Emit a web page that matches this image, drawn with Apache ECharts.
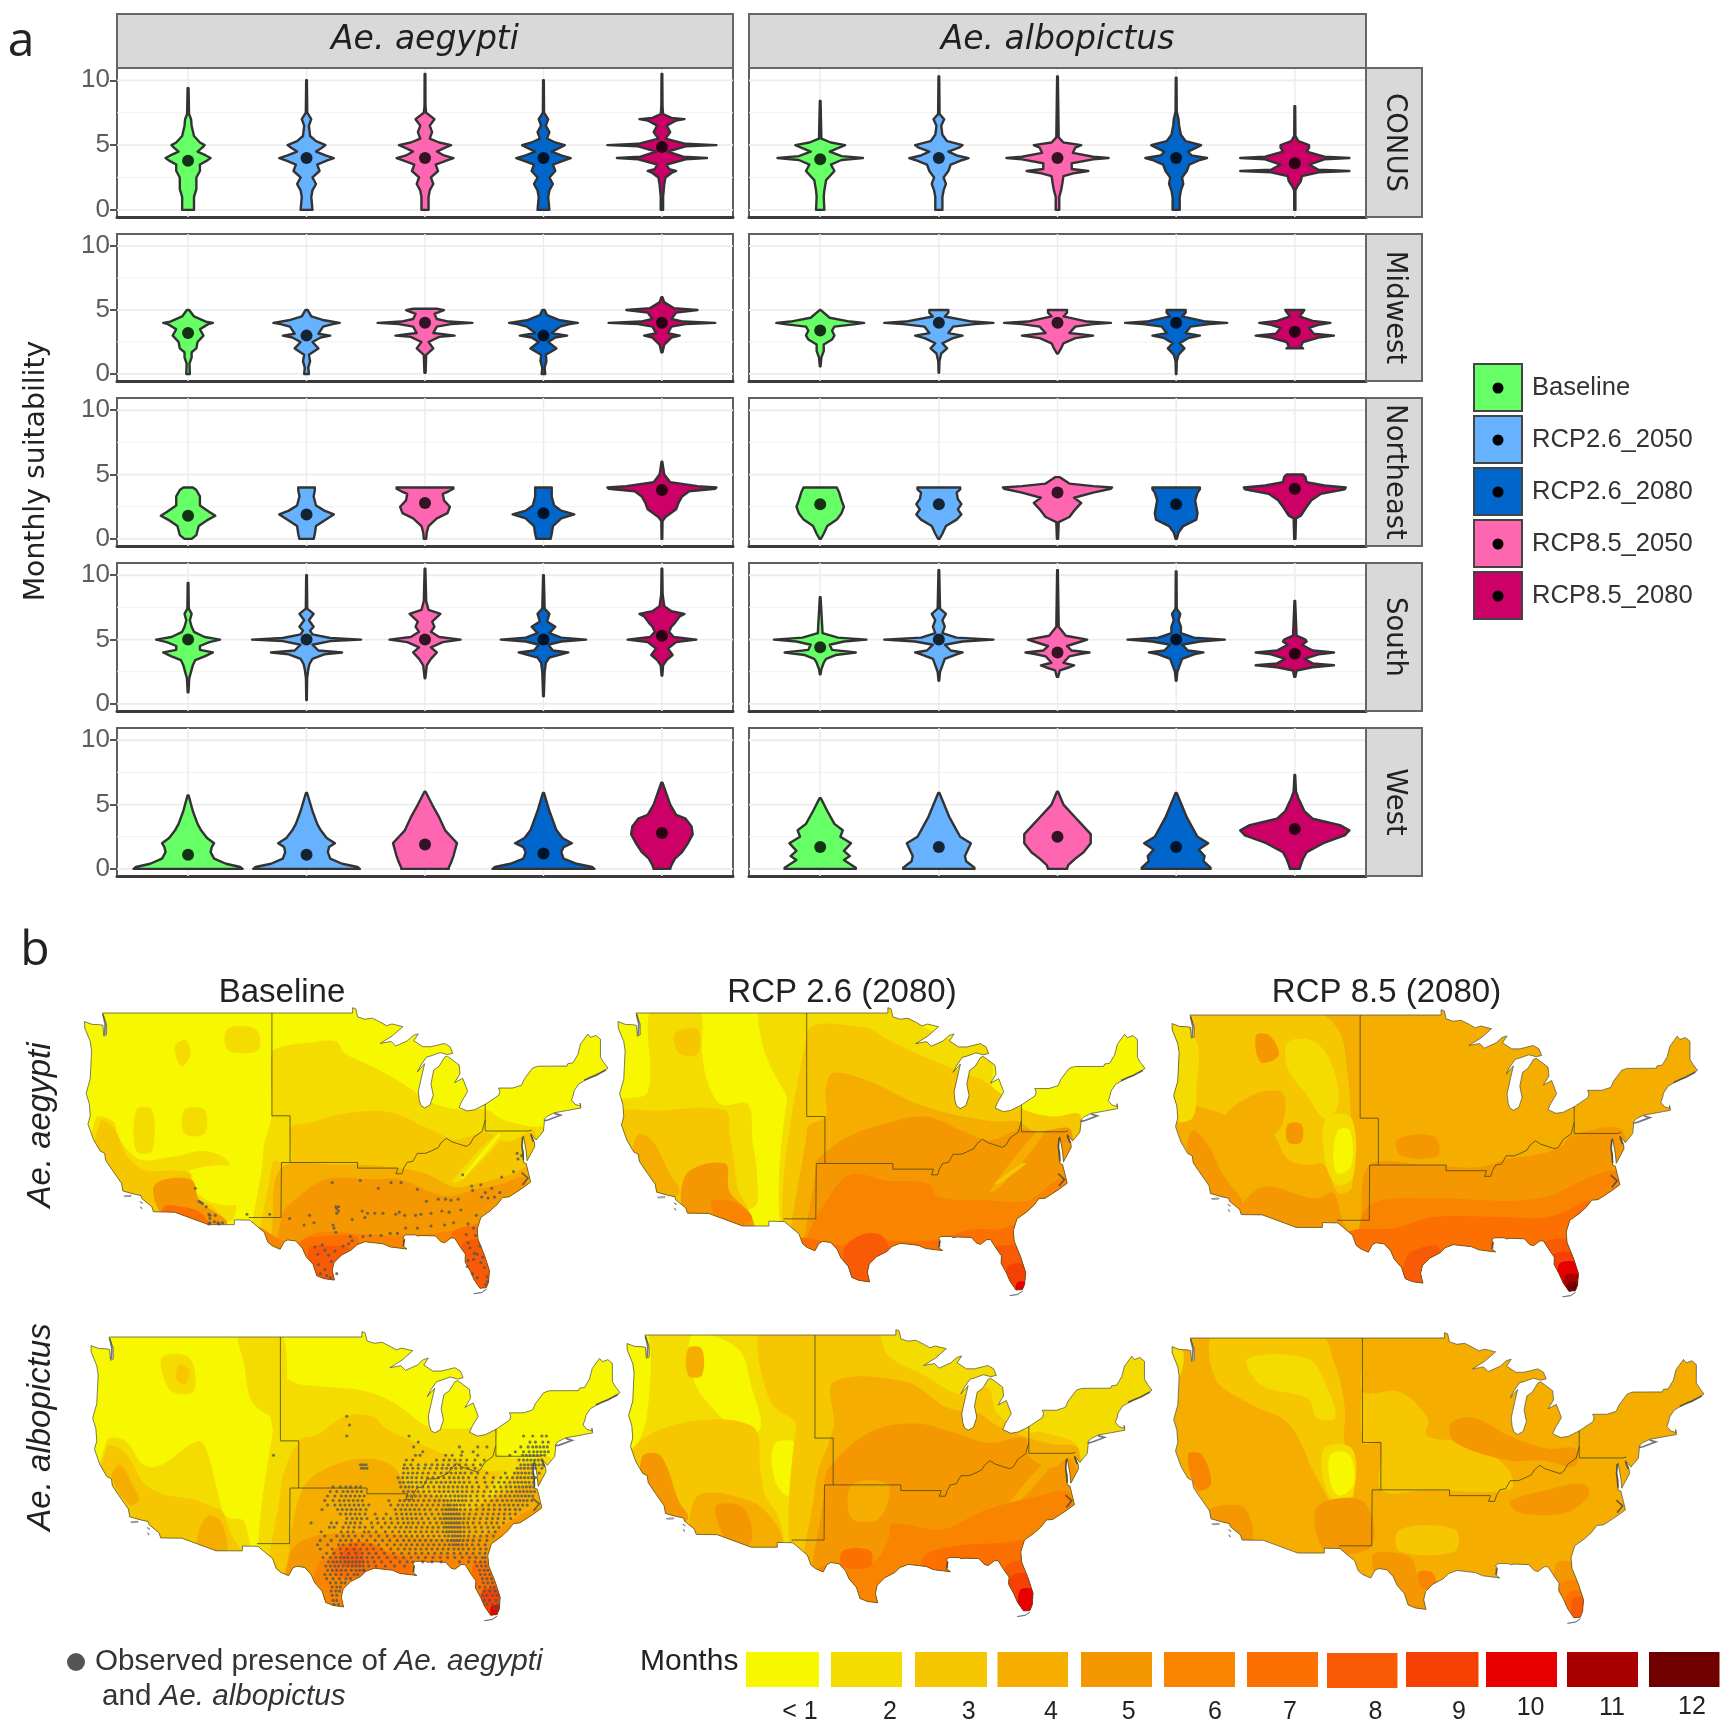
<!DOCTYPE html>
<html><head><meta charset="utf-8">
<style>html,body{margin:0;padding:0;background:#fff}#c{width:1725px;height:1733px}</style>
<script src="https://cdn.jsdelivr.net/npm/echarts@6/dist/echarts.min.js"></script>
</head><body><div id="c"></div>
<script>
// ---------- violin data: each profile is [value, half width in category units] ----------
const scenarios = ['Baseline','RCP2.6_2050','RCP2.6_2080','RCP8.5_2050','RCP8.5_2080'];
const regions = ['CONUS','Midwest','Northeast','South','West'];
const species = ['Ae. aegypti','Ae. albopictus'];
const yTicks = [0,5,10];

const conusAegypti = [
 [[0,.05],[1,.05],[1.6,.07],[2.5,.07],[3,.1],[3.5,.1],[3.8,.16],[4,.19],[4.2,.15],[4.5,.08],[4.8,.12],[5,.14],[5.2,.1],[5.7,.05],[6.5,.03],[7,.025],[7.4,.008],[9.4,.004]],
 [[0,.05],[1,.04],[1.5,.05],[2,.08],[2.5,.05],[3,.11],[3.5,.09],[3.8,.17],[4,.23],[4.2,.16],[4.5,.08],[4.8,.13],[5,.16],[5.3,.08],[5.7,.03],[6.5,.02],[7,.04],[7.5,.006],[10,.003]],
 [[0,.03],[1,.03],[1.5,.04],[2,.07],[2.5,.05],[3,.11],[3.5,.09],[3.8,.18],[4,.24],[4.2,.16],[4.5,.10],[4.8,.17],[5,.22],[5.2,.12],[5.5,.04],[6,.06],[6.5,.04],[7,.08],[7.5,.01],[8,.004],[10.5,.003]],
 [[0,.05],[1,.04],[1.5,.05],[2,.08],[2.5,.05],[3,.10],[3.5,.08],[3.8,.17],[4,.23],[4.2,.15],[4.5,.07],[4.8,.14],[5,.18],[5.2,.1],[5.5,.03],[6,.05],[6.5,.02],[7,.04],[7.5,.005],[10,.003]],
 [[0,.01],[1,.01],[2,.02],[2.5,.03],[2.85,.08],[3,.12],[3.15,.06],[3.5,.04],[3.9,.2],[4,.38],[4.1,.18],[4.5,.05],[4.9,.2],[5,.46],[5.1,.2],[5.5,.03],[6,.07],[6.5,.04],[6.9,.12],[7,.19],[7.1,.08],[7.4,.01],[8,.005],[10.5,.003]]
];
const midwestAegypti = [
 [[0,.015],[.8,.012],[1.3,.03],[1.7,.03],[2,.07],[2.5,.08],[3,.13],[3.5,.1],[3.9,.17],[4,.21],[4.1,.15],[4.5,.05],[5,.01]],
 [[0,.02],[.5,.015],[1,.03],[1.5,.02],[2,.10],[2.5,.05],[2.85,.12],[3,.2],[3.15,.1],[3.7,.14],[3.9,.22],[4,.28],[4.2,.15],[4.5,.04],[5,.01]],
 [[.1,.005],[1.5,.01],[2,.07],[2.5,.03],[2.9,.12],[3,.25],[3.2,.07],[3.7,.1],[3.9,.22],[4,.40],[4.1,.2],[4.3,.1],[4.7,.08],[5,.16],[5.1,.1]],
 [[0,.015],[.5,.01],[1,.025],[1.5,.02],[2,.11],[2.5,.04],[2.85,.1],[3,.2],[3.2,.07],[3.7,.14],[3.9,.22],[4,.29],[4.2,.14],[4.6,.03],[5,.01]],
 [[1.7,.005],[2.3,.02],[2.85,.08],[3,.15],[3.2,.05],[3.7,.08],[3.9,.2],[4,.45],[4.1,.18],[4.3,.08],[4.8,.12],[5,.30],[5.15,.1],[5.6,.02],[6,.005]]
];
const northeastAegypti = [
 [[0,.03],[.3,.07],[1,.09],[1.5,.17],[1.8,.23],[2.1,.18],[2.6,.1],[3.3,.1],[3.8,.07],[4,.04]],
 [[0,.06],[.4,.07],[1,.08],[1.6,.18],[1.9,.23],[2.2,.15],[2.6,.08],[3.3,.06],[3.8,.07],[4,.07]],
 [[0,.01],[.5,.015],[1,.03],[1.6,.1],[2,.19],[2.5,.21],[3,.16],[3.5,.15],[3.7,.2],[3.9,.24],[4,.24]],
 [[0,.06],[.4,.07],[1,.08],[1.6,.15],[1.9,.26],[2.2,.15],[2.6,.09],[3.3,.07],[3.8,.07],[4,.07]],
 [[0,.003],[1.4,.005],[1.7,.03],[2.3,.12],[2.8,.14],[3.3,.17],[3.7,.23],[3.9,.45],[4,.46],[4.1,.3],[4.4,.07],[5,.02],[6,.003]]
];
const southAegypti = [
 [[.9,.003],[2,.01],[3,.04],[3.4,.06],[3.7,.14],[4,.21],[4.2,.1],[4.5,.1],[4.8,.18],[5,.27],[5.2,.14],[5.6,.05],[6,.03],[6.5,.015],[7,.03],[7.4,.006],[9.4,.003]],
 [[.3,.002],[2,.005],[2.7,.015],[3.1,.025],[3.5,.05],[3.85,.15],[4,.30],[4.15,.1],[4.6,.05],[4.88,.2],[5,.46],[5.12,.2],[5.4,.05],[5.7,.03],[6,.06],[6.5,.02],[7,.06],[7.4,.006],[10,.003]],
 [[2,.003],[3,.015],[3.5,.05],[4,.10],[4.4,.05],[4.8,.15],[5,.30],[5.2,.12],[5.6,.05],[6,.08],[6.4,.06],[7,.13],[7.3,.03],[8,.01],[10.5,.003]],
 [[.6,.003],[2.5,.01],[3.2,.02],[3.6,.05],[3.85,.15],[4,.21],[4.15,.08],[4.6,.04],[4.85,.15],[5,.36],[5.15,.15],[5.5,.05],[6,.1],[6.4,.03],[7,.05],[7.4,.01],[10,.003]],
 [[2.2,.003],[3,.01],[3.4,.04],[3.8,.09],[4.3,.05],[4.8,.12],[5,.29],[5.2,.1],[5.6,.06],[6,.08],[6.3,.11],[6.8,.15],[7,.19],[7.2,.08],[7.6,.02],[8.5,.006],[10.5,.003]]
];
const westAegypti = [
 [[0,.46],[.15,.44],[.4,.32],[.8,.22],[1.3,.19],[1.7,.2],[2,.22],[2.4,.16],[3,.11],[3.5,.08],[4.5,.04],[5.7,.005]],
 [[0,.45],[.15,.43],[.4,.3],[.8,.2],[1.3,.18],[1.7,.19],[2,.24],[2.4,.17],[3,.12],[3.5,.09],[4.5,.05],[5.9,.005]],
 [[0,.2],[.1,.2],[.5,.22],[1,.24],[2,.27],[2.5,.22],[3,.17],[4,.12],[5,.06],[6,.005]],
 [[0,.43],[.15,.41],[.4,.28],[.8,.17],[1.3,.15],[1.7,.17],[2,.24],[2.4,.16],[3,.11],[3.5,.09],[4.5,.05],[5.9,.005]],
 [[0,.07],[.3,.08],[.8,.11],[1.3,.17],[2,.22],[2.7,.26],[3.3,.25],[3.9,.2],[4.2,.12],[5,.07],[6.7,.005]]
];
const conusAlbopictus = [
 [[0,.035],[1,.03],[1.5,.035],[2.3,.05],[3,.12],[3.5,.09],[3.85,.18],[4,.36],[4.15,.18],[4.5,.08],[4.8,.16],[5,.21],[5.2,.09],[5.5,.01],[8.4,.003]],
 [[0,.03],[1,.03],[1.5,.04],[2,.06],[2.5,.04],[3,.08],[3.5,.1],[3.85,.2],[4,.25],[4.2,.15],[4.5,.08],[4.8,.17],[5,.2],[5.3,.07],[5.8,.03],[6.5,.02],[7,.045],[7.4,.006],[10.3,.003]],
 [[0,.015],[1,.015],[1.5,.03],[2,.04],[2.6,.05],[2.85,.15],[3,.26],[3.15,.12],[3.6,.12],[3.9,.3],[4,.43],[4.1,.3],[4.4,.13],[4.8,.15],[5,.2],[5.2,.05],[5.6,.01],[10.3,.003]],
 [[0,.03],[1,.03],[1.5,.04],[2,.06],[2.5,.05],[3,.09],[3.5,.11],[3.85,.2],[4,.26],[4.2,.13],[4.5,.1],[4.8,.17],[5,.21],[5.3,.08],[5.8,.04],[6.5,.025],[7,.02],[7.6,.005],[10.2,.003]],
 [[0,.005],[1.5,.005],[1.8,.02],[2.2,.05],[2.6,.06],[2.9,.2],[3,.46],[3.1,.2],[3.5,.12],[3.9,.25],[4,.46],[4.1,.25],[4.5,.1],[4.8,.12],[5,.12],[5.3,.03],[5.7,.005],[8,.003]]
];
const midwestAlbopictus = [
 [[.6,.003],[1.3,.01],[1.8,.03],[2.3,.03],[2.7,.1],[3,.12],[3.4,.1],[3.7,.12],[3.9,.3],[4,.37],[4.1,.25],[4.4,.08],[5,.005]],
 [[.1,.002],[1,.005],[1.6,.02],[2,.07],[2.4,.03],[2.8,.12],[3,.2],[3.2,.08],[3.7,.12],[3.9,.3],[4,.46],[4.1,.28],[4.5,.05],[4.8,.08],[5,.08]],
 [[1.6,.005],[2,.03],[2.4,.05],[2.8,.15],[3,.3],[3.2,.1],[3.7,.15],[3.9,.3],[4,.45],[4.1,.25],[4.5,.05],[4.8,.08],[5,.08]],
 [[0,.002],[1,.005],[1.5,.02],[2,.07],[2.4,.03],[2.8,.1],[3,.2],[3.2,.08],[3.7,.12],[3.9,.28],[4,.43],[4.1,.25],[4.5,.05],[4.8,.08],[5,.08]],
 [[2,.07],[2.15,.05],[2.5,.07],[2.85,.2],[3,.33],[3.15,.16],[3.6,.12],[3.85,.2],[4,.3],[4.15,.15],[4.5,.04],[4.85,.07],[5,.08]]
];
const northeastAlbopictus = [
 [[0,.005],[.4,.03],[1,.06],[1.5,.14],[2,.18],[2.5,.2],[3,.18],[3.6,.16],[4,.14]],
 [[0,.005],[.4,.03],[1,.06],[1.5,.15],[1.9,.19],[2.3,.16],[2.7,.19],[3.1,.16],[3.6,.15],[3.85,.18],[4,.18]],
 [[0,.005],[1.3,.01],[1.7,.1],[2.3,.15],[2.8,.2],[3.2,.14],[3.6,.3],[3.9,.45],[4,.46],[4.1,.3],[4.3,.1],[4.8,.02]],
 [[0,.005],[.5,.02],[1,.06],[1.5,.17],[2,.18],[2.5,.17],[3,.16],[3.6,.18],[3.85,.2],[4,.2]],
 [[0,.005],[1.6,.01],[1.8,.05],[2.5,.1],[3,.14],[3.5,.22],[3.85,.42],[4,.43],[4.15,.25],[4.4,.1],[4.8,.09],[5,.07]]
];
const southAlbopictus = [
 [[2.3,.003],[2.7,.01],[3.2,.03],[3.5,.05],[3.8,.13],[4,.3],[4.2,.1],[4.6,.08],[4.85,.2],[5,.39],[5.15,.15],[5.5,.02],[8.3,.003]],
 [[1.8,.003],[2.5,.01],[3,.03],[3.5,.05],[3.85,.15],[4,.2],[4.15,.1],[4.6,.05],[4.85,.2],[5,.46],[5.15,.15],[5.5,.03],[6,.05],[6.5,.03],[7,.06],[7.4,.01],[10.4,.003]],
 [[2.1,.005],[2.6,.02],[2.85,.1],[3,.14],[3.2,.05],[3.7,.1],[3.9,.2],[4,.27],[4.15,.12],[4.5,.08],[4.85,.2],[5,.25],[5.3,.07],[6,.01],[10.4,.003]],
 [[1.8,.003],[2.5,.01],[3,.03],[3.5,.05],[3.85,.15],[4,.23],[4.15,.1],[4.6,.05],[4.85,.2],[5,.41],[5.15,.15],[5.5,.04],[6,.04],[6.5,.02],[7,.035],[7.4,.005],[10.3,.003]],
 [[2.1,.005],[2.6,.015],[2.85,.15],[3,.33],[3.15,.15],[3.5,.08],[3.85,.2],[4,.33],[4.15,.15],[4.6,.06],[4.85,.1],[5,.09],[5.3,.015],[8,.003]]
];
const westAlbopictus = [
 [[0,.3],[.1,.3],[.7,.2],[1,.25],[1.4,.2],[2,.26],[2.5,.17],[3,.19],[3.5,.12],[4.5,.06],[5.5,.005]],
 [[0,.3],[.1,.3],[.6,.23],[1,.22],[2,.27],[2.5,.18],[3,.15],[4,.09],[5.9,.005]],
 [[0,.08],[.3,.09],[.8,.15],[1.3,.22],[2,.28],[2.7,.28],[3.5,.2],[4,.15],[5,.05],[6,.005]],
 [[0,.29],[.1,.29],[.6,.23],[1,.24],[1.5,.19],[2,.27],[2.5,.18],[3,.15],[4,.09],[5.9,.005]],
 [[0,.04],[.3,.05],[.8,.07],[1.3,.1],[2,.24],[2.6,.42],[3,.46],[3.4,.38],[3.9,.15],[4.5,.08],[5.5,.03],[6,.01],[7.3,.003]]
];
const mediansAegypti = [[3.8,4,4,4,4.85],[3.2,3,4,3,4],[1.8,1.9,2.8,2,3.8],[5,5,5,5,5.3],[1.1,1.1,1.9,1.2,2.8]];
const mediansAlbopictus = [[3.9,4,4,4,3.6],[3.4,4,4,4,3.3],[2.7,2.7,3.6,2.7,3.9],[4.4,5,4,5,3.9],[1.7,1.7,2.5,1.7,3.1]];

// ---------- map data: longitude / latitude ----------
const usOutline = [[-124.73,48.38],[-123.9,48.17],[-123.1,48.15],[-122.7,48.1],[-122.6,47.3],[-122.3,47.4],[-122.3,48.2],[-122.76,49],[-95.15,49],[-95.15,49.38],[-94.8,49.3],[-94.6,48.72],[-93.8,48.55],[-92.95,48.62],[-92,48.3],[-91.4,48.07],[-90.8,48.2],[-89.6,48],[-90.8,47.3],[-92.1,46.75],[-90.9,46.9],[-90.4,46.55],[-89.1,46.95],[-88.45,47.35],[-87.9,47.47],[-88.4,46.95],[-87.4,46.5],[-86.5,46.5],[-85,46.75],[-84.4,46.5],[-84.1,46],[-84.7,45.9],[-85.5,46.05],[-86.5,45.8],[-87,45.7],[-87.6,45.1],[-88,44.55],[-87.2,45.2],[-87.5,44.3],[-87.9,43],[-87.8,42.3],[-87.6,41.85],[-87.2,41.65],[-86.6,41.9],[-86.25,42.7],[-86.5,43.6],[-86.2,44.7],[-85.6,45],[-85,45.7],[-84.7,45.78],[-83.4,45.1],[-83.3,44.4],[-83.9,43.7],[-83,44.05],[-82.45,43],[-83.1,42.2],[-83.4,41.7],[-82.5,41.4],[-81.7,41.5],[-80.5,41.95],[-79,42.7],[-78.9,43],[-79.05,43.27],[-77.5,43.27],[-76.5,43.5],[-76.2,44],[-75.3,44.85],[-74.7,45],[-71.5,45.01],[-71.4,45.2],[-70.85,45.25],[-70.3,45.9],[-70,46.7],[-69.2,47.45],[-68.9,47.2],[-68.3,47.35],[-67.8,47.07],[-67.8,45.7],[-67.45,45.3],[-66.97,44.85],[-68.2,44.3],[-69,44.1],[-70.2,43.6],[-70.7,43.05],[-70.8,42.7],[-71,42.3],[-70.6,41.95],[-70,41.8],[-70.05,42.05],[-69.95,41.65],[-70.7,41.55],[-71.4,41.45],[-72.9,41.25],[-73.7,40.95],[-74,40.7],[-74,40.4],[-74.1,39.7],[-74.9,38.95],[-75.5,39.5],[-75.1,38.8],[-75.05,38.4],[-75.9,37.15],[-76,38],[-76.3,39.3],[-76.5,38.5],[-76.3,37.9],[-76.3,37],[-76,36.9],[-75.5,35.25],[-76.5,34.65],[-77.9,33.9],[-78.6,33.85],[-79.2,33.2],[-80,32.6],[-81,32],[-81.4,30.9],[-81.3,29.9],[-80.6,28.4],[-80.05,26.9],[-80.15,25.75],[-80.4,25.2],[-81.1,25.15],[-81.75,26],[-82.2,26.9],[-82.75,27.8],[-82.7,28.5],[-83.2,29.1],[-83.9,30.05],[-84.3,30.05],[-85,29.6],[-85.4,29.7],[-86,30.25],[-87.5,30.3],[-88,30.25],[-88.2,30.35],[-89.3,30.35],[-89.6,30.15],[-89.4,29.9],[-89.6,29.3],[-89.15,29],[-90.1,29.1],[-91,29.2],[-91.8,29.5],[-92.3,29.55],[-93.8,29.7],[-94.7,29.4],[-95.3,28.9],[-96.4,28.4],[-97.2,27.7],[-97.4,26.9],[-97.15,25.96],[-98.3,26.1],[-99.1,26.4],[-99.5,27.5],[-100.3,28.3],[-100.7,29.1],[-101.4,29.77],[-102.3,29.88],[-102.7,29.7],[-103.15,28.98],[-104,29.3],[-104.5,29.65],[-104.9,30.6],[-106.5,31.75],[-108.2,31.78],[-108.2,31.33],[-111.07,31.33],[-114.8,32.5],[-117.12,32.53],[-117.3,33],[-118.4,33.75],[-118.5,34.03],[-119.2,34.15],[-120.5,34.45],[-120.65,35.15],[-121.9,36.6],[-122.4,37.2],[-122.5,37.8],[-123,38],[-123.75,39],[-124.35,40.3],[-124.1,41],[-124.2,42],[-124.55,42.85],[-124.1,44],[-123.95,46.2],[-124.1,46.9],[-124.7,47.9]];
const usIslands = [
 [[-120.4,34],[-119.6,34.05],[-119.6,33.95],[-120.3,33.92]],
 [[-118.6,33.48],[-118.3,33.35],[-118.4,33.3]],
 [[-118.55,33],[-118.35,32.85],[-118.45,32.8]],
 [[-81.8,24.6],[-80.9,24.75],[-80.4,25.05],[-80.9,24.7]]
];
const darkCoasts = [
 [[-122.7,48.9],[-122.45,48.2],[-122.5,47.4]],
 [[-76.4,39.2],[-76.45,38.4],[-76.3,37.2]],
 [[-76.5,36.1],[-75.8,35.6],[-76.4,35]],
 [[-75.5,39.4],[-75.2,38.8]],
 [[-69.6,43.9],[-68.3,44.3],[-67.2,44.7]],
 [[-72.9,41.2],[-72.2,41.05],[-73.6,40.65],[-74,40.6]],
 [[-89.5,29.9],[-89.5,29.3]]
];
const regionBorders = [
 [[-104.05,49],[-104.05,41],[-102.05,41],[-102.05,37]],
 [[-106.6,32],[-103.05,32],[-103,37],[-94.6,37],[-94.6,36.5],[-90.15,36.5],[-90.37,36],[-89.7,36],[-89.5,36.5],[-89.15,37],[-88.5,37.1],[-88,37.8],[-87.1,37.8],[-86.5,38],[-85.7,38.3],[-85.4,38.7],[-84.8,39.1],[-84.2,38.8],[-83.6,38.65],[-82.6,38.4],[-82.2,38.6],[-81.75,39.2],[-80.85,39.7],[-80.52,40.64],[-80.52,41.98]],
 [[-80.52,40.64],[-80.52,39.72],[-75.79,39.72],[-75.4,39.8]]
];
const monthColors = ['#f7f700','#f5dc00','#f6c700','#f5ae00','#f59700','#f98400','#fb7000','#f95a05','#f64105','#e80000','#a80000','#700000'];
const monthLabels = ['< 1','2','3','4','5','6','7','8','9','10','11','12'];

// each entry: [months, [[lon,lat],...]] painted in order over the base level
const aegyptiBaselineBase = 1;
const aegyptiBaselineAreas = [
 [2,[[-109,47.8],[-106.5,48],[-105.5,47.5],[-105.5,46.3],[-107,46],[-109,46.3]]],
 [2,[[-114.8,46.5],[-113.6,47],[-113,46],[-114,45]]],
 [2,[[-119,41.5],[-117.3,41.5],[-117.3,38],[-119,38]]],
 [2,[[-113.7,41.5],[-111.5,41.5],[-111.5,39.5],[-113.7,39.5]]],
 [2,[[-123.5,40.8],[-121.5,40.5],[-121,39.2],[-118.7,37.3],[-115,37.5],[-111.5,38],[-108.8,37],[-108,34],[-108.8,31.6],[-125,30]]],
 [1,[[-113.7,36],[-107.5,36.5],[-107,33.5],[-111,33.5]]],
 [2,[[-104.1,46],[-103,46.5],[-100,46.8],[-97,46.9],[-96,46],[-92.2,44.7],[-88.5,43.1],[-86.2,42],[-83,41.5],[-80.4,41.5],[-78.6,40.7],[-75.5,40.1],[-74,39.9],[-74,24],[-105,24],[-105,38],[-104.1,41]]],
 [3,[[-123,40.5],[-121.5,40],[-120,37.5],[-118,36.3],[-115,36.3],[-113,36],[-113,35],[-112,33.5],[-110.5,33],[-109.5,31],[-125,30]]],
 [3,[[-102,37],[-102,40],[-100,40.4],[-96,41.2],[-91,41.3],[-87,40],[-84,39],[-82.5,39.2],[-80.4,39.6],[-78,38.8],[-75,39.6],[-75,24],[-104,24],[-104,37]]],
 [2,[[-84.2,35.3],[-83.2,35.4],[-78,39.7],[-79,39.7]]],
 [1,[[-83.2,35.6],[-82.9,35.6],[-78.8,39.4],[-79.2,39.4]]],
 [4,[[-103,36.5],[-97,36.8],[-94,36.8],[-90,36.5],[-87,36],[-84,34.8],[-82,35],[-78.5,35.7],[-75,36.5],[-75,24],[-104,24],[-104,31]]],
 [5,[[-103,32],[-101,34],[-98,35.5],[-93,35.5],[-90,35.5],[-85,34],[-82,34.5],[-79,35],[-76,35.5],[-75,24],[-103,24]]],
 [5,[[-117,35],[-113,35.5],[-112,33.5],[-109,31.5],[-112,30],[-116,32]]],
 [6,[[-106,31],[-102,29.5],[-99,30.6],[-95,30.5],[-90,30.3],[-85,30.6],[-82,31.3],[-80,31.5],[-80,24],[-106,24]]],
 [7,[[-116,33],[-114,33],[-112,32.5],[-111,31.3],[-112,30],[-116,31]]],
 [7,[[-101,29.5],[-97,30.3],[-94.5,30],[-95,24],[-101,24]]],
 [8,[[-100,29],[-97,29.3],[-95.5,29],[-96,25],[-99,25]]],
 [7,[[-84,30.7],[-81,31],[-80,29],[-84,29]]],
 [8,[[-83,29.5],[-80,29.5],[-80,24.5],[-83,24.5]]]
];
const aegyptiRcp26Base = 1;
const aegyptiRcp26Areas = [
 [2,[[-121,49.5],[-116,49.5],[-115.5,46],[-115,44],[-113.5,42],[-110.5,42],[-110,39],[-109.5,36],[-110,33],[-125,30],[-125,42],[-121.5,43]]],
 [2,[[-109,49.5],[-104,49.5],[-104,41],[-102,41],[-102,37],[-103,32],[-105,31],[-106,37],[-106,42],[-108,45],[-109,47]]],
 [3,[[-120,41.5],[-113,41.5],[-112.5,39.5],[-112,37],[-111.5,34.5],[-110.5,33],[-110,31],[-125,30],[-125,41]]],
 [3,[[-118.5,47.5],[-116,47.8],[-116,46],[-118,46]]],
 [4,[[-122.5,39.5],[-121,39],[-119,36],[-118,34.5],[-120,33],[-123,38]]],
 [5,[[-117.3,36],[-113,37],[-112.5,34.5],[-110.3,32.5],[-110,31],[-117,31.5]]],
 [6,[[-114.5,33.5],[-112,33.5],[-110,32],[-113,31]]],
 [2,[[-104.1,49.5],[-96,49.5],[-88,47],[-84,47],[-83,41],[-74,40],[-74,24],[-104.1,24]]],
 [3,[[-104,47.5],[-98,48],[-95,47],[-92,46],[-87.5,44.7],[-85,44],[-83,43],[-80,41.5],[-77,41],[-74,41],[-74,24],[-104,24]]],
 [4,[[-102,41],[-102,43],[-101.2,44.5],[-97,43.8],[-92.5,42.2],[-88.2,41.2],[-83.5,40.6],[-81,40.6],[-79,39.8],[-75.5,39.8],[-75,37],[-74,24],[-104,24],[-104,40]]],
 [5,[[-102,38],[-99,39.5],[-96,40.3],[-91,41],[-87,39.8],[-84,39],[-80.5,40],[-79,39.7],[-75,39.7],[-75,24],[-103,24],[-103,37]]],
 [4,[[-84,34.5],[-83,34.8],[-78,39.6],[-79,39.6]]],
 [3,[[-83.5,35.2],[-82.8,35.3],[-80,37],[-80.5,37]]],
 [6,[[-102,33.5],[-99.3,36],[-95.4,35.5],[-90.7,35.2],[-89.6,34],[-83.7,33.7],[-79.8,33.7],[-76.2,35.7],[-75,35],[-75,24],[-104,24],[-104,30]]],
 [7,[[-105,30],[-100,29.5],[-97.7,30.6],[-95.5,30],[-90,30],[-86,31],[-83,31],[-81,31.3],[-80,24],[-105,24]]],
 [8,[[-100,29],[-98,30.5],[-96,30.5],[-95,29],[-96,25],[-99,25]]],
 [8,[[-84,29],[-80,29],[-80,24.5],[-83,24.5]]],
 [9,[[-82,27.5],[-80,27.5],[-80,24.5],[-82,24.5]]],
 [10,[[-81,25.9],[-80,25.9],[-80,24.7],[-81,24.7]]]
];
const aegyptiRcp85Base = 4;
const aegyptiRcp85Areas = [
 [3,[[-125,49.5],[-110,49.5],[-106.5,48],[-105.5,45],[-105,40],[-105,35],[-106.5,34.5],[-108,37],[-110,37],[-112,37.5],[-114,40],[-118,41],[-122,42],[-125,42]]],
 [2,[[-124.9,49],[-122,47],[-122,44],[-122.5,41],[-124.8,41]]],
 [2,[[-112,47],[-109,47],[-107,45],[-106.5,42],[-108,41],[-110,43],[-112,45]]],
 [2,[[-107.8,41],[-105,41],[-104.8,36],[-106.5,35.2],[-107.8,37]]],
 [1,[[-106.5,40],[-105.2,40],[-105,37],[-106.5,36.2],[-107,37.5]]],
 [4,[[-115.5,43],[-112.5,43],[-113,40],[-117,39],[-119,41]]],
 [5,[[-115.5,47.5],[-114,47.5],[-113,46],[-115,45.5]]],
 [5,[[-112,40.5],[-110.5,40.5],[-110.5,39],[-112,39]]],
 [5,[[-122.5,40],[-121,39],[-119,36],[-117,33.5],[-120,33],[-123,38]]],
 [5,[[-115,35],[-109,34],[-107,34.5],[-106,32],[-105,30],[-118,31]]],
 [5,[[-103,37],[-97,37],[-91,36.8],[-88,37.5],[-84,38],[-82,38.6],[-80.5,39.7],[-75,39.7],[-75,24],[-105,24],[-104,32]]],
 [5,[[-100,39.2],[-96,39.5],[-95.5,37.8],[-99.5,37.8]]],
 [6,[[-104,32],[-102,33.8],[-95,34],[-87,33.8],[-83,34.3],[-80,35.5],[-76.5,36.5],[-75,36],[-75,24],[-104,24]]],
 [7,[[-106,30.5],[-100,31.3],[-96,32.3],[-88,32.3],[-84,32.2],[-81,33],[-79,33.8],[-78,33],[-78,24],[-106,24]]],
 [8,[[-99,28.5],[-97,29.5],[-95.5,29.5],[-95,28],[-96,25],[-99,25]]],
 [8,[[-84,29.8],[-80.5,30],[-80,27],[-84,27]]],
 [9,[[-83,28.6],[-80,28.6],[-80,24.5],[-83,24.5]]],
 [10,[[-82.2,27.8],[-80,27.8],[-80,24.5],[-82,24.5]]],
 [11,[[-81.5,26.7],[-80,26.7],[-80,24.5],[-81.5,24.5]]],
 [12,[[-81.2,25.9],[-80,25.9],[-80,24.5],[-81.2,24.5]]]
];
const albopictusBaselineBase = 1;
const albopictusBaselineAreas = [
 [2,[[-108.5,49.5],[-104,49.5],[-104,43],[-107,44],[-108,47]]],
 [2,[[-105,44],[-102,44],[-102,32],[-105,32],[-105,36],[-104.5,40]]],
 [2,[[-117,47.5],[-114,47.5],[-113.5,45],[-116,45]]],
 [3,[[-115,47],[-114,46.5],[-114.5,45.5],[-115.5,46]]],
 [2,[[-123,41],[-121,41],[-119,39],[-117,39],[-113,41],[-112,40],[-111,37],[-110,34.5],[-108,34],[-108,30],[-125,30]]],
 [3,[[-123,40.5],[-121,40],[-119,37.5],[-117,36.5],[-113.5,36],[-112,35.5],[-110.5,35],[-109.5,33],[-108.5,31],[-125,30]]],
 [4,[[-121.5,39],[-120,37],[-119.5,36],[-120.5,35.5],[-122.5,38]]],
 [4,[[-112,34.5],[-110.5,34],[-110,31],[-113,31],[-113,33]]],
 [2,[[-104.1,46],[-102,45.5],[-95,45],[-91.5,44],[-88,42.2],[-84.5,42],[-80.5,42],[-80.5,40],[-77,39.5],[-74.5,39.5],[-74,24],[-104.1,24]]],
 [3,[[-102,41],[-100,41.5],[-97,43],[-94,43],[-92.5,42],[-88,40.5],[-85,39.5],[-81.5,38.5],[-80,38.5],[-76,39],[-75,37],[-75,24],[-104,24],[-104,37]]],
 [4,[[-101.6,37],[-99.5,38.5],[-95.5,39.5],[-92,39],[-90,37],[-88,36.5],[-86,36],[-84,35],[-81,36],[-78,37],[-75,37.5],[-75,24],[-103,24],[-103,32]]],
 [2,[[-81.5,36.5],[-78.5,39.5],[-77.5,39.5],[-80.5,36.5]]],
 [5,[[-103,31],[-101,32.5],[-97,33],[-93,33],[-88,32.5],[-84,32.5],[-81,33],[-79,34],[-77,35],[-75,35],[-75,24],[-103,24]]],
 [6,[[-100,30],[-97,31],[-94,31.5],[-90,31],[-86,31],[-83,31],[-81,30.5],[-80,30],[-80,24],[-100,24]]],
 [7,[[-98.5,31],[-97,32],[-94,32],[-92,31],[-90,30.5],[-90,29],[-98,29]]],
 [8,[[-97,31.5],[-95.5,31.5],[-95,30.2],[-96.5,29.8],[-97.5,30.3]]],
 [7,[[-83,30],[-81,30],[-80,24.5],[-82.5,25]]],
 [9,[[-82,27.5],[-80,27.5],[-80,24.5],[-81.5,24.5]]],
 [10,[[-81,26],[-80,26],[-80,25],[-81,25]]]
];
const albopictusRcp26Base = 2;
const albopictusRcp26Areas = [
 [1,[[-125,49.5],[-122.5,49.5],[-122.5,43],[-124,40],[-125,40]]],
 [1,[[-117.5,49],[-112.5,48],[-111,45],[-110,42],[-111.5,41],[-116,44],[-117.5,46]]],
 [3,[[-120,42],[-111,42],[-110,38],[-109.5,36],[-108,34],[-108,31],[-125,30],[-125,39]]],
 [3,[[-110,49.5],[-104,49.5],[-104,41],[-102,41],[-102,33],[-105,32],[-105,36.5],[-106,42],[-109,44]]],
 [4,[[-118,48],[-116.5,48],[-116.5,46],[-118,46]]],
 [1,[[-108.5,40.5],[-106,40.5],[-105.5,37],[-107,36],[-108.5,37.5]]],
 [5,[[-123,39.5],[-121,39.5],[-119,35.5],[-118,34],[-120,33],[-123,37]]],
 [4,[[-117,36],[-111,35.5],[-108,33],[-108,31],[-117,31]]],
 [5,[[-115,35],[-112,35],[-111,32],[-113,31]]],
 [3,[[-104.1,49.5],[-97.5,49.5],[-96,47.5],[-92,46],[-88,44.5],[-85,45],[-84,43],[-80.5,41.5],[-79,41.5],[-75,40],[-75,24],[-104.1,24]]],
 [4,[[-102,42],[-102,45.5],[-94,45.5],[-89.5,43.5],[-86,43],[-84,42],[-80.5,41],[-78,40.5],[-75,40],[-75,24],[-104,24],[-104,37]]],
 [5,[[-102.5,38.5],[-98,41.5],[-93,42.2],[-89,41.5],[-85,40.6],[-81,41],[-80.5,39.5],[-78,38.5],[-76,39.3],[-75,37],[-75,24],[-103,24],[-103,37]]],
 [4,[[-100,37],[-96,37],[-97,34],[-100,34]]],
 [4,[[-83,35],[-82,35.2],[-78,38.8],[-79,38.8]]],
 [6,[[-95.5,33.5],[-90,33],[-85.5,34.7],[-79.5,36],[-76,36.2],[-75,24],[-104,24],[-104,29],[-100,30],[-97.5,30],[-96,32]]],
 [7,[[-101,31],[-98,31],[-98,29.5],[-101,29.5]]],
 [7,[[-92,30.5],[-88,31.5],[-84,31.7],[-81,32],[-79,32],[-80,24],[-83,24],[-92,28]]],
 [8,[[-83,29.5],[-80,29.8],[-80,24.5],[-83,24.5]]],
 [9,[[-82.5,28.5],[-80,28.5],[-80,24.5],[-82.5,24.5]]],
 [10,[[-81.5,27.2],[-80,27.2],[-80,25],[-81.5,25]]]
];
const albopictusRcp85Base = 4;
const albopictusRcp85Areas = [
 [3,[[-120,49.5],[-109,49.5],[-107,47],[-106,44],[-106,41],[-105,37],[-106,34.5],[-109,38],[-112,42.5],[-116,44],[-120,46]]],
 [2,[[-124.9,48.8],[-123.5,48],[-124,46],[-124.9,46]]],
 [2,[[-116.5,47.5],[-110,47.5],[-108,45.5],[-107,43],[-109,43],[-110,44.5],[-115,45.5]]],
 [2,[[-108.2,40.5],[-105.2,40.5],[-105,36.8],[-106.5,36],[-108,37]]],
 [1,[[-107.5,40],[-105.5,40],[-105,37.5],[-106.5,36.5],[-107.5,37.5]]],
 [3,[[-104,47],[-104,45],[-100,45],[-97,43],[-97,41.5],[-92,41],[-90,40],[-88,38.5],[-88,37],[-97,37],[-102,37],[-102,41],[-104,41]]],
 [3,[[-100,33.5],[-94,33.5],[-94,31.5],[-100,31.5]]],
 [5,[[-94.5,42.5],[-92,43],[-88,41.5],[-84,40.5],[-81,40.5],[-81,39],[-84.5,39.5],[-88,39.5],[-94,41]]],
 [5,[[-88,36],[-84,37],[-80,37.5],[-79.5,36.5],[-82,35],[-87,35]]],
 [6,[[-123,40],[-121.5,40],[-120.5,37.5],[-122,37]]],
 [5,[[-121,35],[-117,35.5],[-116,32.5],[-118,32]]],
 [5,[[-109,35.5],[-104,36],[-103,32],[-108,31.5]]],
 [5,[[-103,31],[-99,31],[-98,29],[-96,25],[-100,25]]],
 [6,[[-98,29.5],[-96.5,29.5],[-96,28],[-97.5,28]]],
 [5,[[-83,30.3],[-81,30.3],[-80,26],[-83,26]]],
 [6,[[-82.5,28.5],[-80.3,28.5],[-80,25],[-82.5,25]]],
 [7,[[-81.8,27.5],[-80,27.5],[-80,24.8],[-81.8,24.8]]],
 [8,[[-81.2,27],[-80,27],[-80,25.2],[-81.2,25.2]]]
];

// observed presence
const aegyptiObserved = [[-112.5,34.7],[-112.1,33.5],[-111.9,33.4],[-111.7,33.3],[-111.3,33],[-111,32.3],[-110.9,32.2],[-110.9,31.9],[-110.9,31.5],[-110.4,31.6],[-110.3,32.2],[-110,31.5],[-109.9,31.4],[-111,31.4],[-109.5,31.5],[-106.8,32.3],[-104.3,32.3],[-102.1,31.9],[-100.5,31.3],[-99.4,31.5],[-99.9,32.2],[-97.4,35.2],[-97,33],[-96.9,32.8],[-96.7,33],[-96.7,32.6],[-96.9,32.4],[-97.3,31.3],[-97.2,31],[-97,30.6],[-95.2,31.8],[-94.1,32.6],[-93.8,32],[-93.5,32.4],[-92.7,32.4],[-91.8,32.4],[-90.4,32.3],[-90,32.5],[-89.4,32.2],[-88.2,32.2],[-87.6,32.3],[-86.5,32.4],[-85.7,33.7],[-84.9,33.7],[-84.3,33.6],[-83.5,33.7],[-90.9,35.2],[-89.8,35.2],[-88,34.6],[-87,33.5],[-82,34.9],[-81,35],[-81.9,34.5],[-80.5,34.3],[-79.8,34.7],[-78.7,35.7],[-77.4,36.2],[-76.9,37.3],[-76.5,37.6],[-77,37.8],[-83,35.9],[-80.2,33.8],[-80.9,33.9],[-79.5,33.9],[-78.9,34.3],[-83.2,32.7],[-84.5,32.5],[-85.3,32.6],[-81.5,32.2],[-82.4,31.4],[-81.8,31],[-84,31.5],[-85,31.3],[-86.5,31.2],[-88,31],[-89.3,31],[-90.2,30.5],[-91,30.5],[-92,30.3],[-93.2,30.3],[-94,30.2],[-95.4,30.2],[-95.2,29.8],[-95.6,29.5],[-96.2,29.3],[-97.1,28.8],[-97.8,28.4],[-97.5,27.8],[-98.5,29.4],[-98.2,28.9],[-99,28.5],[-98.9,27.5],[-98.2,27],[-98,26.4],[-97.6,26.2],[-99.3,29.2],[-96.9,26.6],[-98.7,26.6],[-82.6,30.4],[-82.4,29.6],[-82.2,29.1],[-81.7,28.6],[-81.4,28.5],[-81.8,28],[-82.4,27.9],[-82.5,27.3],[-81.9,26.6],[-81.4,26.2],[-80.3,26.3],[-80.3,25.8],[-80.5,25.5],[-80.6,27.2],[-80.8,28.2],[-81.6,30.3],[-81.1,29.3],[-81,27.7],[-94.3,35.4],[-92.3,34.7]];
const albopictusObservedRows = [
 [43,[-96.8]],[42.3,[-96.5]],[41.4,[-96.8,-90,-77.5,-76.5,-75.5,-75]],
 [40.9,[-89,-76.8,-76.2,-75.4,-74.8]],[40.5,[-89.5,-84.5,-82.5,-81.5,-77.8,-77,-76.5,-76.1,-75.7,-75.3,-74.9]],
 [40.1,[-88.5,-84.2,-83,-78.4,-77.5,-76.9,-76.4,-76,-75.6,-75.2,-74.8]],
 [39.8,[-104.8,-88.8,-89.3,-86,-85.3,-84.3,-82.5,-79,-77.6,-77.2,-76.8,-76.4,-76,-75.6,-75.2]],
 [39.4,[-90.3,-89.6,-87,-86.2,-85.6,-85,-84.4,-83.7,-82.8,-81.8,-78,-77.5,-77.1,-76.7,-76.3,-75.9,-75.5]],
 [39,[-95.3,-95,-94.7,-90.5,-89.8,-89,-88.2,-87.5,-86.9,-86.3,-85.7,-85,-84.5,-83.8,-83,-82.2,-77.8,-77.4,-77,-76.6,-76.2,-75.8,-75.4]],
 [38.7,[-95.2,-94.9,-94.6,-90.6,-90.2,-89.6,-89,-88.3,-87.7,-87,-86.4,-85.9,-85.4,-84.9,-84.3,-83.6,-82.8,-78.2,-77.8,-77.4,-77,-76.6,-76.2,-75.5]],
 [38.3,[-90.6,-90.1,-89.6,-89.1,-88.5,-87.9,-87.2,-86.5,-85.9,-85.4,-84.9,-84.4,-83.9,-83.2,-82.5,-81.5,-79.5,-78.5,-78.1,-77.7,-77.3,-76.9,-76.5,-75.8]],
 [37.9,[-91.2,-90.7,-90.2,-89.7,-89.2,-88.6,-88,-87.4,-86.8,-86.2,-85.6,-85.1,-84.6,-84.1,-83.5,-82.7,-81.8,-80.8,-80,-79.3,-78.7,-78.2,-77.8,-77.4,-77,-76.6,-76.2]],
 [37.5,[-91,-90.6,-90.1,-89.7,-89.2,-88.7,-88.2,-87.6,-87,-86.5,-86,-85.5,-85,-84.5,-84,-83.4,-82.6,-81.7,-80.9,-80.2,-79.6,-79,-78.5,-78.1,-77.7,-77.3,-76.9,-76.4]],
 [37.1,[-98.3,-97.5,-96.9,-96.4,-95.8,-95.3,-90.9,-90.4,-90,-89.6,-89.1,-88.5,-87.9,-87.3,-86.7,-86.2,-85.7,-85.2,-84.7,-84.2,-83.7,-83.1,-82.4,-81.5,-80.7,-80,-79.4,-78.9,-78.4,-78,-77.6,-77.2,-76.8,-76.4]],
 [36.7,[-98.6,-97.9,-97.2,-96.7,-96.2,-95.7,-95.2,-90.6,-90.1,-89.6,-89,-88.4,-87.8,-87.2,-86.7,-86.2,-85.7,-85.2,-84.7,-84.2,-83.7,-83.1,-82.5,-81.8,-81.1,-80.5,-79.9,-79.3,-78.8,-78.3,-77.9,-77.5,-77.1,-76.7,-76.3]],
 [36.3,[-98.9,-98.1,-97.4,-96.9,-96.4,-95.9,-95.4,-94.9,-90.2,-89.8,-89.3,-88.8,-88.2,-87.6,-87,-86.5,-86,-85.5,-85,-84.6,-84.2,-83.8,-83.3,-82.6,-81.9,-81.2,-80.6,-80,-79.5,-79,-78.5,-78.1,-77.7,-77.3,-76.9,-76.5]],
 [35.9,[-99.2,-98.3,-97.6,-97.1,-96.6,-96.1,-95.6,-95.1,-92.2,-91,-90.5,-90,-89.5,-89,-88.4,-87.8,-87.2,-86.7,-86.2,-85.8,-85.4,-85,-84.6,-84.2,-83.8,-83.2,-82.5,-81.7,-81,-80.4,-79.8,-79.3,-78.8,-78.3,-77.9,-77.5,-77.1,-76.6]],
 [35.5,[-98.9,-98.1,-97.5,-97,-96.5,-96,-95.5,-95,-94.4,-92,-91.2,-90.7,-90.2,-89.7,-89.2,-88.6,-88,-87.4,-86.8,-86.2,-85.8,-85.5,-85.1,-84.8,-84.4,-84,-83.4,-82.7,-82,-81.3,-80.7,-80.1,-79.6,-79.1,-78.6,-78.1,-77.6,-77.1]],
 [35.1,[-99.5,-97.8,-97.3,-96.8,-96.3,-95.8,-95.3,-94.7,-91.5,-90.9,-90.4,-89.9,-89.4,-88.9,-88.3,-87.7,-87,-86.4,-86,-85.7,-85.4,-85.1,-84.8,-84.4,-83.9,-83.3,-82.6,-81.9,-81.3,-80.7,-80.1,-79.5,-79,-78.4,-77.9]],
 [34.7,[-97.5,-96.9,-96.4,-95.9,-95.4,-94.8,-93.7,-92.5,-91.4,-90.8,-90.3,-89.8,-89.3,-88.8,-88.2,-87.5,-86.8,-86.3,-86,-85.7,-85.4,-85.1,-84.8,-84.5,-84,-83.4,-82.7,-82,-81.4,-80.8,-80.2,-79.6,-79,-78.4]],
 [34.3,[-96.8,-96.2,-95.7,-95.2,-94.6,-93.5,-92.8,-92,-91.3,-90.7,-90.2,-89.7,-89.2,-88.6,-87.9,-87.2,-86.6,-86.2,-85.9,-85.6,-85.3,-85,-84.7,-84.4,-84,-83.5,-82.9,-82.2,-81.5,-80.9,-80.3,-79.6,-78.9]],
 [33.9,[-100.7,-98.5,-97.9,-96.9,-96.4,-95.9,-95.3,-94.1,-93.4,-92.6,-91.9,-91.2,-90.6,-90.1,-89.6,-89,-88.4,-87.7,-87,-86.4,-86,-85.7,-85.4,-85.1,-84.8,-84.5,-84.1,-83.6,-83,-82.3,-81.6,-81,-80.4,-79.7]],
 [33.5,[-98.7,-98.2,-97.2,-96.6,-96,-95.4,-94.8,-94,-93,-92.2,-91.5,-90.9,-90.3,-89.8,-89.2,-88.6,-88,-87.4,-86.8,-86.2,-85.9,-85.6,-85.3,-85,-84.7,-84.4,-84,-83.5,-82.8,-82.1,-81.4,-80.8,-80.2]],
 [33.1,[-99.6,-97.4,-96.7,-96.1,-94.9,-94.4,-93.6,-92.6,-91.8,-91.1,-90.5,-89.9,-89.3,-88.7,-88.1,-87.5,-86.9,-86.3,-85.9,-85.6,-85.3,-85,-84.7,-84.4,-84,-83.4,-82.7,-82,-81.3,-80.6]],
 [32.7,[-99.2,-97.9,-97.2,-96.6,-95.9,-95.1,-94.2,-93.3,-92.4,-91.6,-90.9,-90.3,-89.7,-89.1,-88.5,-87.9,-87.3,-86.7,-86.1,-85.7,-85.3,-85,-84.7,-84.4,-84,-83.5,-82.9,-82.2,-81.5,-80.8]],
 [32.3,[-99.7,-98.5,-97.5,-96.9,-96.3,-95.5,-94.6,-93.7,-92.9,-92.1,-91.3,-90.6,-90,-89.4,-88.8,-88.2,-87.6,-87,-86.4,-85.8,-85.4,-85.1,-84.8,-84.5,-84.1,-83.6,-83,-82.3,-81.5]],
 [31.9,[-100,-98.9,-97.7,-97.2,-96.4,-95.8,-95,-94.2,-93.3,-92.4,-91.6,-90.9,-90.3,-89.7,-89.1,-88.5,-87.9,-87.3,-86.7,-86.1,-85.6,-85.2,-84.9,-84.6,-84.2,-83.7,-83.1,-82.4,-81.7]],
 [31.5,[-99.7,-98.4,-97.5,-96.8,-96,-95.3,-94.6,-93.9,-93,-92,-91.2,-90.5,-89.9,-89.3,-88.7,-88.1,-87.5,-86.9,-86.3,-85.7,-85.1,-84.6,-84.1,-83.5,-82.9,-82.2,-81.6]],
 [31.1,[-99,-98.2,-97.4,-96.6,-95.8,-95.1,-94.4,-93.6,-92.7,-91.7,-90.8,-90,-89.3,-88.6,-87.9,-87.2,-86.5,-85.8,-85.1,-84.4,-83.7,-83,-82.3,-81.7]],
 [30.7,[-99.4,-98.6,-98,-97.5,-97.1,-96.7,-96.2,-95.7,-95.2,-94.6,-94,-93.3,-92.4,-91.5,-90.6,-89.8,-89,-88.2,-87.4,-86.6,-85.8,-85,-84.2,-83.4,-82.7,-82,-81.7]],
 [30.3,[-98.8,-98.3,-97.9,-97.5,-97,-96.6,-96.2,-95.8,-95.4,-95,-94.5,-93.8,-93,-92,-91,-90.2,-89.6,-88.5,-87.5,-86.5,-84.5,-83.5,-82.8,-82.2,-81.7]],
 [29.9,[-99.1,-98.6,-98.1,-97.7,-97.2,-96.7,-96.2,-95.8,-95.4,-95,-94.4,-93.6,-92.6,-91.6,-90.5,-82.6,-82.1,-81.6]],
 [29.5,[-98.9,-98.4,-97.9,-97.4,-96.9,-96.3,-95.8,-95.4,-95,-94.9,-82.3,-81.8,-81.4]],
 [29.1,[-99.2,-98.6,-98,-97.4,-96.7,-96,-95.6,-82.2,-81.7,-81.2]],[28.7,[-99,-98.3,-97.6,-96.9,-96.4,-82,-81.5,-81]],
 [28.3,[-98.6,-98,-97.4,-97,-81.9,-81.4,-80.9]],[27.9,[-98.4,-97.9,-97.5,-82.3,-81.7,-81.1,-80.7]],[27.5,[-98.5,-98,-97.6,-81.8,-81.2,-80.6]],
 [27.1,[-98.4,-97.9,-82,-81.5,-80.9,-80.4]],[26.6,[-98.3,-97.9,-81.8,-81.2,-80.5]],[26.2,[-98.2,-97.7,-81.5,-80.9,-80.3]],[25.8,[-80.7,-80.4]]
];

// ---------- figure layout ----------
const panelRows = [[68,217],[234,381],[398,546],[563,711],[728,876]];
const panelCols = [[117,733],[749,1366]];
const yMin=-0.55, yMax=10.95;
const mapLayouts = [
 {left:84.5,right:608,top:1013,areas:aegyptiBaselineAreas,base:aegyptiBaselineBase},
 {left:618,right:1145,top:1013,areas:aegyptiRcp26Areas,base:aegyptiRcp26Base},
 {left:1172,right:1697.5,top:1015,areas:aegyptiRcp85Areas,base:aegyptiRcp85Base},
 {left:91,right:620,top:1337,areas:albopictusBaselineAreas,base:albopictusBaselineBase},
 {left:627,right:1152,top:1335,areas:albopictusRcp26Areas,base:albopictusRcp26Base},
 {left:1172,right:1704,top:1338,areas:albopictusRcp85Areas,base:albopictusRcp85Base}
];
const legendRowsY = [388,440,492,544,596];
const colourBoxes = [[746,819],[831,902],[915,987],[997.5,1068],[1081,1152],[1164,1235],[1247,1318],[1327,1397.5],[1406,1478.5],[1486,1557],[1567,1638],[1649,1719.5]];
const colourLabelAnchors = [[800,1712],[890,1712],[968.6,1712],[1051,1712],[1128.6,1712],[1215,1712],[1290,1712],[1375.5,1712],[1459,1712],[1530.6,1708],[1612,1708],[1692,1707]];

// legend order, then the order the violins stand in on the panels
const legendColors = ['#66ff66','#66b2ff','#0066cc','#ff66b2','#cc0066'];
const violinColors = ['#66ff66','#66b2ff','#ff66b2','#0066cc','#cc0066'];
const violinSets = [[conusAegypti,midwestAegypti,northeastAegypti,southAegypti,westAegypti],
                    [conusAlbopictus,midwestAlbopictus,northeastAlbopictus,southAlbopictus,westAlbopictus]];
const medianSets = [mediansAegypti,mediansAlbopictus];

const merc = lat => Math.asinh(Math.tan(lat*Math.PI/180))*180/Math.PI;
const grids=[],xAxes=[],yAxes=[],series=[],graphic=[];

// ---------- violin panels ----------
function addPanel(c,r){
  const g=grids.length;
  const [x0,x1]=panelCols[c],[y0,y1]=panelRows[r];
  grids.push({left:x0,top:y0,width:x1-x0,height:y1-y0,show:true,backgroundColor:'#fff',borderColor:'#5f5f5f',borderWidth:2});
  xAxes.push({gridIndex:g,type:'value',min:0.4,max:5.6,axisLabel:{show:false},axisTick:{show:false},splitLine:{show:false},
    axisLine:{show:true,onZero:false,lineStyle:{color:'#3a3a3a',width:3}}});
  yAxes.push({gridIndex:g,type:'value',min:yMin,max:yMax,splitLine:{show:false},axisLine:{show:false},
    axisTick:c===0?{show:true,length:7,customValues:yTicks,lineStyle:{color:'#555',width:2}}:{show:false},
    axisLabel:c===0?{show:true,customValues:yTicks,fontFamily:'Liberation Sans',fontSize:26,color:'#5c5c5c',margin:7,padding:[4,0,0,0]}:{show:false}});
  series.push({type:'custom',xAxisIndex:g,yAxisIndex:g,silent:true,z:1,animation:false,data:[[0]],
    renderItem(p,api){
      const ch=[];
      [[0,1.8],[2.5,1],[5,1.8],[7.5,1],[10,1.8]].forEach(([v,w])=>{
        const a=api.coord([0.4,v]),b=api.coord([5.6,v]);
        ch.push({type:'line',shape:{x1:a[0],y1:a[1],x2:b[0],y2:b[1]},style:{stroke:w>1?'#ececec':'#f2f2f2',lineWidth:w}});
      });
      [1,2,3,4,5].forEach(v=>{
        const a=api.coord([v,yMin]),b=api.coord([v,yMax]);
        ch.push({type:'line',shape:{x1:a[0],y1:a[1],x2:b[0],y2:b[1]},style:{stroke:'#ececec',lineWidth:1.5}});
      });
      return {type:'group',children:ch};
    }});
  const profiles=violinSets[c][r];
  series.push({type:'custom',xAxisIndex:g,yAxisIndex:g,silent:true,z:2,animation:false,
    data:profiles.map((_,i)=>[i+1]),
    renderItem(p,api){
      const i=p.dataIndex,prof=profiles[i],cx=i+1;
      const right=prof.map(([v,w])=>api.coord([cx+w,v]));
      const left=prof.slice().reverse().map(([v,w])=>api.coord([cx-w,v]));
      return {type:'polygon',shape:{points:right.concat(left)},
        style:{fill:violinColors[i],stroke:'#333',lineWidth:2.4,lineJoin:'round'}};
    }});
  series.push({type:'scatter',xAxisIndex:g,yAxisIndex:g,silent:true,z:3,animation:false,symbolSize:12,
    itemStyle:{color:'#000'},data:medianSets[c][r].map((m,i)=>[i+1,m])});
}
for(let c=0;c<2;c++)for(let r=0;r<5;r++)addPanel(c,r);

// ---------- maps ----------
const lonMin=-125.5,lonMax=-66,latMin=24.3,latMax=49.7;
function addMap(m,obs){
  const g=grids.length,k=(m.right-m.left)/(124.73-66.97);
  const gx=m.left+(lonMin+124.73)*k;
  const gy=m.top-(merc(latMax)-merc(49))*k;
  grids.push({left:gx,top:gy,width:(lonMax-lonMin)*k,height:(merc(latMax)-merc(latMin))*k,show:false});
  xAxes.push({gridIndex:g,type:'value',min:lonMin,max:lonMax,show:false,splitLine:{show:false}});
  yAxes.push({gridIndex:g,type:'value',min:merc(latMin),max:merc(latMax),show:false,splitLine:{show:false}});
  const pts=(api,ring)=>ring.map(([lo,la])=>api.coord([lo,merc(la)]));
  series.push({type:'custom',xAxisIndex:g,yAxisIndex:g,silent:true,animation:false,z:1,
    data:[[m.base]].concat(m.areas.map(a=>[a[0]])),
    renderItem(p,api){
      const outline=pts(api,usOutline);
      const isBase=p.dataIndex===0;
      const ring=isBase?usOutline:m.areas[p.dataIndex-1][1];
      return {type:'polygon',shape:{points:pts(api,ring),smooth:isBase?0:0.35},
        clipPath:{type:'polygon',shape:{points:outline}},
        style:{fill:monthColors[api.value(0)-1],stroke:null}};
    }});
  series.push({type:'custom',xAxisIndex:g,yAxisIndex:g,silent:true,animation:false,z:2,data:[[0]],
    renderItem(p,api){
      const ch=[{type:'polygon',shape:{points:pts(api,usOutline)},style:{fill:'none',stroke:'rgba(70,70,40,.7)',lineWidth:1}}];
      usIslands.forEach(isl=>ch.push({type:'polygon',shape:{points:pts(api,isl)},style:{fill:'#fff',stroke:'rgba(70,70,80,.7)',lineWidth:.8}}));
      darkCoasts.forEach(b=>ch.push({type:'polyline',shape:{points:pts(api,b)},style:{fill:'none',stroke:'rgba(55,55,65,.7)',lineWidth:1.7}}));
      regionBorders.forEach(b=>ch.push({type:'polyline',shape:{points:pts(api,b)},style:{fill:'none',stroke:'rgba(70,70,30,.8)',lineWidth:1}}));
      return {type:'group',children:ch};
    }});
  if(obs) series.push({type:'scatter',xAxisIndex:g,yAxisIndex:g,silent:true,animation:false,z:3,symbolSize:3.1,
    itemStyle:{color:'#555550'},data:obs.map(([lo,la])=>[lo,merc(la)])});
}
const albopictusObserved=[];
albopictusObservedRows.forEach(([la,los])=>los.forEach(lo=>albopictusObserved.push([lo,la])));
mapLayouts.forEach((m,i)=>addMap(m,i===0?aegyptiObserved:i===3?albopictusObserved:null));

// ---------- furniture ----------
const T=(text,x,y,font,fill,align,rot)=>({type:'text',x,y,rotation:rot||0,silent:true,z:10,
  style:{text,font,fill:fill||'#222',textAlign:align||'center',textVerticalAlign:'middle'}});
const R=(x,y,w,h,fill,stroke,lw)=>({type:'rect',silent:true,z:5,shape:{x,y,width:w,height:h},style:{fill,stroke,lineWidth:lw||2}});
panelCols.forEach(([a,b],i)=>{
  graphic.push(R(a,14,b-a,54,'#d9d9d9','#666'));
  graphic.push(T(species[i],(a+b)/2,40,'italic 33px "DejaVu Sans"','#1f1f1f'));
});
panelRows.forEach(([a,b],i)=>{
  graphic.push(R(1366,a,56,b-a,'#d9d9d9','#666'));
  graphic.push(T(regions[i],1394,(a+b)/2,'27.5px "DejaVu Sans"','#222','center',-Math.PI/2));
});
graphic.push(T('a',21,42,'48px "Open Sans"','#222'));
graphic.push(T('b',35,951,'48px "Open Sans"','#222'));
graphic.push(T('Monthly suitability',37,471,'28.3px "DejaVu Sans"','#222','center',Math.PI/2));
scenarios.forEach((s,i)=>{
  const y=legendRowsY[i];
  graphic.push(R(1474,y-24,48,47,legendColors[i],'#444',2));
  graphic.push({type:'circle',silent:true,z:6,shape:{cx:1498,cy:y,r:5.5},style:{fill:'#000'}});
  graphic.push(T(s,1532,y,'25.6px "Liberation Sans"','#333','left'));
});
[['Baseline',282],['RCP 2.6 (2080)',842],['RCP 8.5 (2080)',1386.5]].forEach(([t,x])=>
  graphic.push(T(t,x,993,'33px "Liberation Sans"','#222')));
graphic.push(T('Ae. aegypti',41,1125,'italic 33px "Liberation Sans"','#222','center',Math.PI/2));
graphic.push(T('Ae. albopictus',41,1427,'italic 33px "Liberation Sans"','#222','center',Math.PI/2));
graphic.push({type:'circle',silent:true,z:6,shape:{cx:76,cy:1662,r:9},style:{fill:'#555'}});
graphic.push({type:'text',x:95,y:1662,silent:true,z:10,style:{text:'{n|Observed presence of }{i|Ae. aegypti}',textVerticalAlign:'middle',
  rich:{n:{font:'29.6px "Liberation Sans"',fill:'#333'},i:{font:'italic 29.6px "Liberation Sans"',fill:'#333'}}}});
graphic.push({type:'text',x:102,y:1697,silent:true,z:10,style:{text:'{n|and }{i|Ae. albopictus}',textVerticalAlign:'middle',
  rich:{n:{font:'29.6px "Liberation Sans"',fill:'#333'},i:{font:'italic 29.6px "Liberation Sans"',fill:'#333'}}}});
graphic.push(T('Months',640,1662,'30px "Liberation Sans"','#222','left'));
colourBoxes.forEach(([a,b],i)=>{
  const dy=i===7?1:0;
  graphic.push({type:'rect',silent:true,z:5,shape:{x:a,y:1652+dy,width:b-a,height:35},style:{fill:monthColors[i]}});
  const [lx,ly]=colourLabelAnchors[i];
  graphic.push(T(monthLabels[i],lx,ly,'25px "Liberation Sans"','#222'));
});

const chart=echarts.init(document.getElementById('c'),null,{renderer:'canvas',width:1725,height:1733});
chart.setOption({animation:false,backgroundColor:'#fff',grid:grids,xAxis:xAxes,yAxis:yAxes,series,graphic:{elements:graphic}});
</script></body></html>
